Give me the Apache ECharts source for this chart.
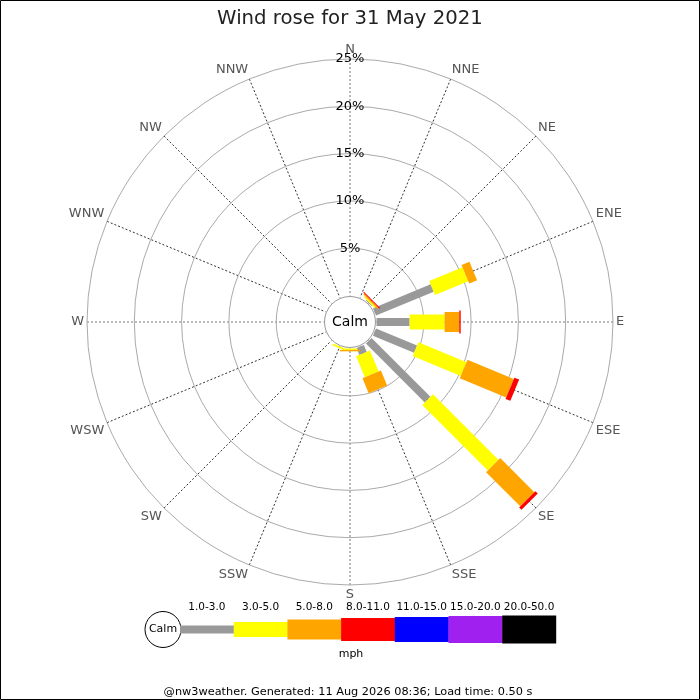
<!DOCTYPE html>
<html><head><meta charset="utf-8">
<script src="https://cdn.jsdelivr.net/npm/echarts@6/dist/echarts.min.js"></script>
<style>html,body{margin:0;padding:0;background:#fff}#c{width:700px;height:700px}</style>
</head><body><div id="c"></div>
<script>
const directions = ['N','NNE','NE','ENE','E','ESE','SE','SSE','S','SSW','SW','WSW','W','WNW','NW','NNW'];
const speedClasses = ['1.0-3.0','3.0-5.0','5.0-8.0','8.0-11.0','11.0-15.0','15.0-20.0','20.0-50.0'];
// percent of the day per direction, for each speed class (mph)
const speed1to3   = [0,0,0.1,6.6,3.5,4.7,8.8,0.8,0,0,0,0,0,0,0,0];
const speed3to5   = [0,0,0.15,3.8,3.7,5.5,9.8,2.4,0.15,0.2,0,0,0,0,0,0];
const speed5to8   = [0,0,0.15,0.9,1.55,5.3,5.1,1.7,0.15,0,0,0,0,0,0,0];
const speed8to11  = [0,0,0.1,0,0.15,0.55,0.35,0,0,0,0,0,0,0,0,0];
const speed11to15 = [0,0,0,0,0,0,0,0,0,0,0,0,0,0,0,0];
const speed15to20 = [0,0,0,0,0,0,0,0,0,0,0,0,0,0,0,0];
const speed20to50 = [0,0,0,0,0,0,0,0,0,0,0,0,0,0,0,0];
const radialTicks = [0,5,10,15,20,25];

const classSeries = [speed1to3,speed3to5,speed5to8,speed8to11,speed11to15,speed15to20,speed20to50];
const classColors = ['#999999','#ffff00','#ffa500','#ff0000','#0000ff','#a020f0','#000000'];
const classWidths = [8,15,20,23,25,27,28];
const FONT = 'DejaVu Sans';
const CX = 350, CY = 322;

// cumulative stacking
const cum = directions.map(()=>0);
const seriesList = classSeries.map((vals, ci) => {
  const data = vals.map((v, di) => {
    const s = cum[di], e = cum[di] + v; cum[di] = e;
    return [s, e, di * 22.5];
  });
  return {
    type: 'custom', coordinateSystem: 'polar', name: speedClasses[ci],
    encode: {radius: [0,1], angle: 2},
    silent: true, z: 3,
    renderItem: function(params, api){
      const s = api.value(0), e = api.value(1), ang = api.value(2);
      if (e - s <= 0) return null;
      const a = api.coord([s, ang]), b = api.coord([e, ang]);
      const o = api.coord([0, ang]), f = api.coord([25, ang]);
      let dx = f[0]-o[0], dy = f[1]-o[1];
      const L = Math.hypot(dx, dy); dx /= L; dy /= L;
      const hw = classWidths[ci] / 2, nx = -dy * hw, ny = dx * hw;
      return {type:'polygon', shape:{points:[[a[0]+nx,a[1]+ny],[b[0]+nx,b[1]+ny],[b[0]-nx,b[1]-ny],[a[0]-nx,a[1]-ny]]},
        style:{fill: classColors[ci]}};
    },
    data: data
  };
});

// legend graphics built from the class arrays
const graphics = [];
const legX0 = 180, legW = 53.7, legCY = 629.5;
graphics.push({type:'circle', shape:{cx:163, cy:legCY, r:18}, style:{fill:'#fff', stroke:'#000', lineWidth:1}, z:10});
graphics.push({type:'text', x:163, y:legCY, style:{text:'Calm', font:'11px "DejaVu Sans"', fill:'#000', align:'center', verticalAlign:'middle'}, z:11});
speedClasses.forEach((lab, i) => {
  const h = classWidths[i];
  graphics.push({type:'rect', shape:{x:legX0 + i*legW, y:legCY - h/2, width:legW + 0.3, height:h}, style:{fill:classColors[i]}, z:10});
  graphics.push({type:'text', x:legX0 + i*legW + legW/2, y:607, style:{text:lab, font:'10.5px "DejaVu Sans"', fill:'#000', align:'center', verticalAlign:'middle'}, z:11});
});
graphics.push({type:'text', x:351, y:654, style:{text:'mph', font:'11px "DejaVu Sans"', fill:'#000', align:'center', verticalAlign:'middle'}, z:11});
graphics.push({type:'text', x:348, y:692, style:{text:'@nw3weather. Generated: 11 Aug 2026 08:36; Load time: 0.50 s', font:'11.3px "DejaVu Sans"', fill:'#000', align:'center', verticalAlign:'middle'}, z:11});
// calm circle
graphics.push({type:'circle', shape:{cx:CX, cy:CY, r:25.5}, style:{fill:'#fff', stroke:'#999', lineWidth:1}, z:20});
graphics.push({type:'text', x:CX, y:CY, style:{text:'Calm', font:'14px "DejaVu Sans"', fill:'#000', align:'center', verticalAlign:'middle'}, z:21});
// frame
graphics.push({type:'rect', shape:{x:0.5, y:0.5, width:699, height:699}, style:{fill:'none', stroke:'#000', lineWidth:1}, z:30});

const chart = echarts.init(document.getElementById('c'), null, {renderer:'canvas'});
chart.setOption({
  animation: false,
  backgroundColor: '#fff',
  textStyle: {fontFamily: FONT},
  title: {text:'Wind rose for 31 May 2021', left:'center', top:4,
    textStyle:{fontFamily:FONT, fontSize:19.7, fontWeight:'normal', color:'#222'}},
  polar: {center:[CX, CY], radius:[26.5, 263]},
  angleAxis: {
    type:'value', min:0, max:360, interval:22.5, startAngle:90, clockwise:true,
    axisLine:{show:false}, axisTick:{show:false},
    axisLabel:{margin:3, color:'#555', fontSize:13, fontFamily:FONT,
      formatter: v => v >= 360 ? '' : directions[Math.round(v/22.5)]},
    splitLine:{show:true, lineStyle:{color:['#777','#333','#333','#333'], type:[2,2], width:1}},
    z: 1
  },
  radiusAxis: {
    type:'value', min:radialTicks[0], max:radialTicks[radialTicks.length-1], interval:5,
    axisLine:{show:false}, axisTick:{show:false},
    axisLabel:{margin:0, align:'center', verticalAlign:'middle', color:'#000', fontSize:13, fontFamily:FONT,
      formatter: v => v === 0 ? '' : v + '%'},
    splitLine:{show:true, lineStyle:{color:['rgba(0,0,0,0)','#aaa','#aaa','#aaa','#aaa','#aaa'], width:1}},
    z: 2
  },
  series: seriesList,
  graphic: graphics
});
</script></body></html>
